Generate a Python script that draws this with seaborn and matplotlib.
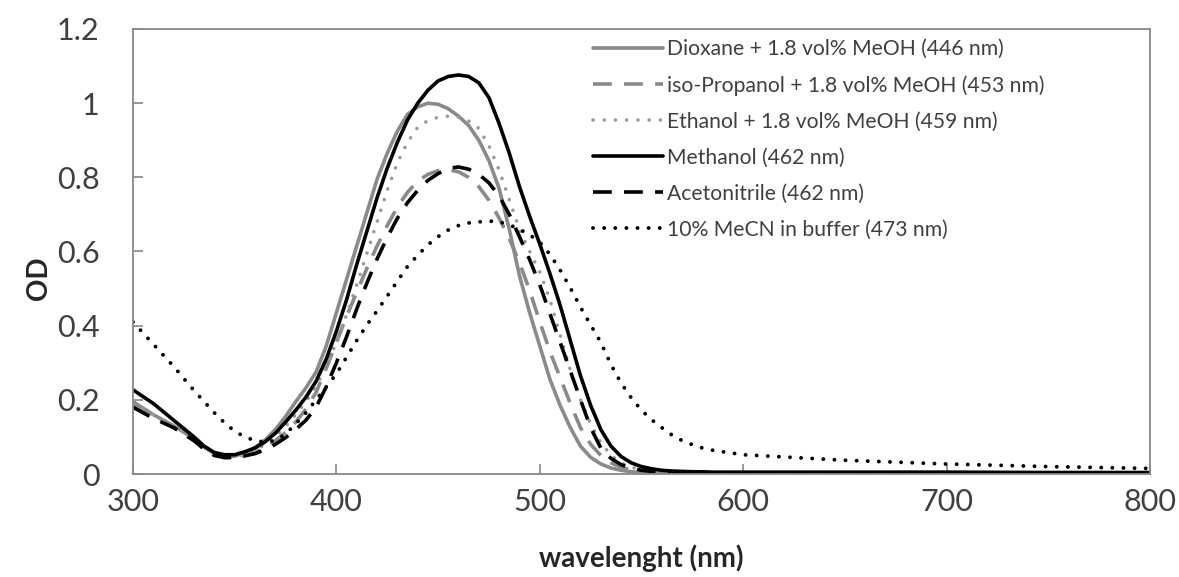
import matplotlib
matplotlib.use("Agg")
import matplotlib.pyplot as plt
import seaborn as sns

# ---------------- data ----------------
wavelength = [300, 310, 320,
              330, 335, 340, 345, 350, 355, 360, 365, 370, 375, 380, 385, 390, 395,
              400, 405, 410, 415, 420, 425, 430, 435, 440, 445, 450, 455, 460, 465,
              470, 475, 480, 485, 490, 495, 500, 505, 510, 515, 520, 525, 530, 535,
              540, 545, 550, 555, 560, 565, 570, 575, 580, 585, 590, 595, 600,
              650, 700, 750, 800]

dioxane = [0.195, 0.16, 0.13,
           0.095, 0.072, 0.055, 0.047, 0.048, 0.058, 0.072, 0.092, 0.12, 0.155, 0.195, 0.232,
           0.275, 0.345, 0.435, 0.525, 0.615, 0.705, 0.795, 0.865, 0.925, 0.97, 0.99, 1.0,
           0.997, 0.985, 0.965, 0.94, 0.9, 0.845, 0.77, 0.66, 0.535, 0.435, 0.345, 0.255,
           0.185, 0.125, 0.075, 0.045, 0.027, 0.016, 0.01, 0.006, 0.004, 0.003, 0.002, 0.001,
           0.001, 0.001, 0.0, 0.0, 0.0, 0.0, 0.0,
           0.0, 0.0, 0.0, 0.0]

isopropanol = [0.185, 0.155, 0.125,
               0.09, 0.067, 0.05, 0.043, 0.043, 0.049, 0.058, 0.072, 0.09, 0.112, 0.14, 0.175,
               0.22, 0.285, 0.355, 0.425, 0.49, 0.555, 0.615, 0.67, 0.72, 0.76, 0.79, 0.808,
               0.818, 0.82, 0.815, 0.8, 0.775, 0.738, 0.69, 0.635, 0.57, 0.495, 0.41, 0.33,
               0.26, 0.19, 0.125, 0.08, 0.05, 0.03, 0.018, 0.011, 0.007, 0.004, 0.003, 0.002,
               0.001, 0.001, 0.0, 0.0, 0.0, 0.0, 0.0,
               0.0, 0.0, 0.0, 0.0]

ethanol = [0.19, 0.16, 0.13,
           0.095, 0.072, 0.055, 0.046, 0.045, 0.052, 0.063, 0.08, 0.1, 0.128, 0.16, 0.195,
           0.235, 0.29, 0.355, 0.43, 0.51, 0.595, 0.68, 0.765, 0.84, 0.895, 0.935, 0.953,
           0.962, 0.965, 0.962, 0.952, 0.932, 0.885, 0.82, 0.74, 0.66, 0.6, 0.545, 0.47,
           0.375, 0.28, 0.2, 0.135, 0.085, 0.05, 0.03, 0.018, 0.012, 0.008, 0.005, 0.004,
           0.003, 0.002, 0.002, 0.001, 0.001, 0.001, 0.001,
           0.0, 0.0, 0.0, 0.0]

methanol = [0.227, 0.19, 0.145,
            0.1, 0.075, 0.058, 0.052, 0.052, 0.06, 0.07, 0.087, 0.11, 0.14, 0.172, 0.207,
            0.25, 0.31, 0.385, 0.47, 0.565, 0.655, 0.745, 0.825, 0.895, 0.955, 1.0, 1.035,
            1.06, 1.072, 1.076, 1.072, 1.055, 1.015, 0.945, 0.865, 0.775, 0.695, 0.62, 0.54,
            0.455, 0.36, 0.265, 0.185, 0.12, 0.075, 0.047, 0.03, 0.02, 0.014, 0.01, 0.008,
            0.007, 0.006, 0.006, 0.005, 0.005, 0.005, 0.005,
            0.005, 0.005, 0.004, 0.004]

acetonitrile = [0.18, 0.15, 0.125,
                0.09, 0.067, 0.05, 0.045, 0.045, 0.049, 0.055, 0.066, 0.08, 0.098, 0.12, 0.145,
                0.18, 0.235, 0.3, 0.37, 0.445, 0.515, 0.58, 0.638, 0.69, 0.732, 0.765, 0.792,
                0.81, 0.824, 0.828, 0.822, 0.808, 0.785, 0.75, 0.7, 0.64, 0.578, 0.51, 0.432,
                0.355, 0.278, 0.2, 0.125, 0.07, 0.042, 0.025, 0.016, 0.01, 0.007, 0.005, 0.004,
                0.003, 0.002, 0.002, 0.001, 0.001, 0.001, 0.001,
                0.0, 0.0, 0.0, 0.0]

buffer_mecn = [0.41, 0.35, 0.29,
               0.225, 0.195, 0.165, 0.138, 0.115, 0.1, 0.09, 0.086, 0.09, 0.108, 0.135, 0.165,
               0.2, 0.235, 0.27, 0.315, 0.36, 0.402, 0.44, 0.48, 0.52, 0.56, 0.59, 0.618,
               0.64, 0.658, 0.67, 0.677, 0.68, 0.682, 0.68, 0.672, 0.66, 0.645, 0.625, 0.592,
               0.55, 0.502, 0.45, 0.402, 0.355, 0.295, 0.245, 0.205, 0.172, 0.146, 0.125, 0.105,
               0.09, 0.079, 0.07, 0.064, 0.06, 0.056, 0.052,
               0.037, 0.027, 0.02, 0.015]

labels = ["Dioxane + 1.8 vol% MeOH (446 nm)",
          "iso-Propanol + 1.8 vol% MeOH (453 nm)",
          "Ethanol + 1.8 vol% MeOH (459 nm)",
          "Methanol (462 nm)",
          "Acetonitrile (462 nm)",
          "10% MeCN in buffer (473 nm)"]

x_ticks = [300, 400, 500, 600, 700, 800]
y_ticks = [0, 0.2, 0.4, 0.6, 0.8, 1.0, 1.2]
y_ticklabels = ["0", "0.2", "0.4", "0.6", "0.8", "1", "1.2"]

# ---------------- style ----------------
sns.set_theme(style="white")
plt.rcParams["font.family"] = ["Lato", "DejaVu Sans"]

GRAY = "#8a8a8a"
BLACK = "#000000"
SPINE = "#888888"
TEXT = "#404040"

fig = plt.figure(figsize=(11.79, 5.77), dpi=100)
ax = fig.add_axes([133 / 1179, 1 - 474 / 577, (1150 - 133) / 1179, (474 - 29) / 577])

series = [
    (dioxane, GRAY, 2.6, "-", "round"),
    (isopropanol, GRAY, 2.6, (0, (5.2, 3.4)), "butt"),
    (ethanol, "#9a9a9a", 2.6, (0, (0.01, 3.1)), "round"),
    (methanol, BLACK, 2.6, "-", "round"),
    (acetonitrile, BLACK, 2.6, (0, (5.2, 3.4)), "butt"),
    (buffer_mecn, BLACK, 2.8, (0, (0.01, 2.85)), "round"),
]

for (vals, col, lw, ls, cap), lab in zip(series, labels):
    sns.lineplot(x=wavelength, y=vals, ax=ax, color=col, linewidth=lw,
                 linestyle=ls, label=lab, estimator=None, sort=True,
                 dash_capstyle=cap, solid_capstyle="round", solid_joinstyle="round",
                 dash_joinstyle="round")

ax.set_xlim(300, 800)
ax.set_ylim(0, 1.2)
ax.set_xticks(x_ticks)
ax.set_xticklabels([str(t) for t in x_ticks])
ax.set_yticks(y_ticks)
ax.set_yticklabels(y_ticklabels)

ax.tick_params(axis="both", direction="in", length=7, width=1.2, color=SPINE,
               labelsize=22, labelcolor=TEXT, left=True, bottom=True)
ax.tick_params(axis="x", pad=10)
ax.tick_params(axis="y", pad=24)

for sp in ax.spines.values():
    sp.set_visible(True)
    sp.set_color(SPINE)
    sp.set_linewidth(1.3)

ax.set_xlabel("wavelenght (nm)", fontsize=20, fontweight="bold", color="#262626")
ax.set_ylabel("OD", fontsize=20, fontweight="bold", color="#262626")
ax.xaxis.set_label_coords(0.5, -0.158)
ax.yaxis.set_label_coords(-0.08, 0.44)

leg = ax.legend(loc="upper left", bbox_to_anchor=(593 / 1179, 1 - 39 / 577),
                bbox_transform=fig.transFigure, frameon=False, fontsize=15.2,
                handlelength=3.3, handletextpad=0.2, labelspacing=0.76,
                borderpad=0, borderaxespad=0)
for t in leg.get_texts():
    t.set_color(TEXT)

fig.savefig("out.png", dpi=100, facecolor="white")
